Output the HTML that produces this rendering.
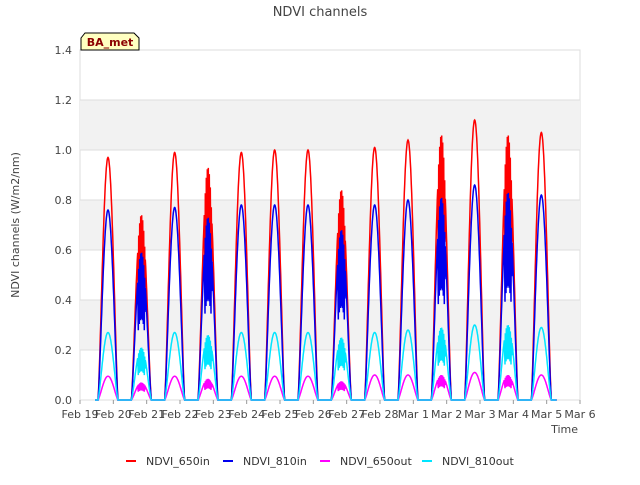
<!DOCTYPE html>
<html><head><meta charset="utf-8"><style>
body{margin:0;background:#fff;font-family:"Liberation Sans","DejaVu Sans",sans-serif}
svg text{font-family:"DejaVu Sans","Liberation Sans",sans-serif}
</style></head><body>
<svg id="c" width="640" height="480" xmlns="http://www.w3.org/2000/svg">
<rect x="0" y="0" width="640" height="480" fill="#fff"/>
<text x="320" y="16" text-anchor="middle" font-size="13" fill="#444">NDVI channels</text>
<g id="plot"></g>
</svg>
<script>
const dayLabels=["Feb 19","Feb 20","Feb 21","Feb 22","Feb 23","Feb 24","Feb 25","Feb 26","Feb 27","Feb 28","Mar 1","Mar 2","Mar 3","Mar 4","Mar 5","Mar 6"];
const yTicks=[0,0.2,0.4,0.6,0.8,1.0,1.2,1.4];
const peaks650in=[0.97,0.74,0.99,0.93,0.99,1.0,1.0,0.84,1.01,1.04,1.06,1.12,1.06,1.07];
const peaks810in=[0.76,0.59,0.77,0.73,0.78,0.78,0.78,0.68,0.78,0.80,0.81,0.86,0.83,0.82];
const peaks650out=[0.095,0.07,0.095,0.085,0.095,0.095,0.095,0.075,0.1,0.1,0.1,0.11,0.1,0.1];
const peaks810out=[0.27,0.21,0.27,0.26,0.27,0.27,0.27,0.25,0.27,0.28,0.29,0.30,0.30,0.29];
const cloudy=[0,1,0,1,0,0,0,1,0,0,1,0,1,0];
const L=80,R=580,T=50,B=400;
const xs=d=>L+(d/15)*(R-L);
const ys=v=>B-(v/1.4)*(B-T);
const NS="http://www.w3.org/2000/svg";
const g=document.getElementById('plot');
function mk(t,a,p){const e=document.createElementNS(NS,t);for(const k in a)e.setAttribute(k,a[k]);(p||g).appendChild(e);return e;}
mk('rect',{x:L,y:T,width:R-L,height:B-T,fill:'#fff',stroke:'#ddd'});
for(let i=0;i<7;i++){if(i%2==1){const r=mk('rect',{x:L,y:ys(yTicks[i+1]),width:R-L,height:ys(yTicks[i])-ys(yTicks[i+1]),fill:'#f2f2f2'});}}
yTicks.forEach(v=>{mk('line',{x1:L,x2:R,y1:ys(v),y2:ys(v),stroke:'#ddd'});
const t=mk('text',{x:L-8,y:ys(v)+4,'text-anchor':'end','font-size':11,fill:'#444'});t.textContent=v.toFixed(1);
});
dayLabels.forEach((s,i)=>{mk('line',{x1:xs(i),x2:xs(i),y1:B,y2:B+4,stroke:'#999'});
const t=mk('text',{x:xs(i),y:B+18,'text-anchor':'middle','font-size':11,fill:'#444'});t.textContent=s;
});
function series(pk,color,w){let pts=[];
pts.push([xs(0.45),ys(0)]);
for(let d=0;d<pk.length;d++){const c=d+0.84;
 for(let k=0;k<=60;k++){const f=k/60;const t=c-0.3+f*0.6;const s=Math.sin(Math.PI*f);let v=pk[d]*Math.pow(s,1.3);
  if(cloudy[d]&&f>0.3&&f<0.7) v*= (k%3==0?0.55:(k%3==1?1.0:0.75));
  pts.push([xs(t),ys(v)]);}
 }
pts.push([xs(14.3),ys(0)]);
const p=mk('polyline',{points:pts.map(q=>q[0].toFixed(1)+','+q[1].toFixed(1)).join(' '),fill:'none',stroke:color,'stroke-width':w});return p;}
let s;
s=series(peaks650in,'#ff0000',1.5);
s=series(peaks810in,'#0000ee',1.5);
s=series(peaks650out,'#ff00ff',1.5);
s=series(peaks810out,'#00e5ff',1.5);
let t=mk('text',{x:578,y:433,'text-anchor':'end','font-size':11,fill:'#444'});t.textContent='Time';

t=mk('text',{x:19,y:225,'text-anchor':'middle','font-size':11,fill:'#444',transform:'rotate(-90 19 225)'});t.textContent='NDVI channels (W/m2/nm)';

const bx=mk('path',{d:'M81,50 L81,38 L85,33 L134,33 L139,38 L139,50 Z',fill:'#ffffc0',stroke:'#000'});

t=mk('text',{x:110,y:46,'text-anchor':'middle','font-size':11,'font-weight':'bold',fill:'#8b0000'});t.textContent='BA_met';

const leg=[["NDVI_650in","#ff0000",126],["NDVI_810in","#0000ee",223],["NDVI_650out","#ff00ff",320],["NDVI_810out","#00e5ff",422]];
leg.forEach(l=>{const lg=mk('g',{});
mk('line',{x1:l[2],x2:l[2]+10,y1:461,y2:461,stroke:l[1],'stroke-width':2},lg);
const tx=mk('text',{x:l[2]+20,y:465,'font-size':11,fill:'#333'},lg);tx.textContent=l[0];});
</script>
</body></html>
